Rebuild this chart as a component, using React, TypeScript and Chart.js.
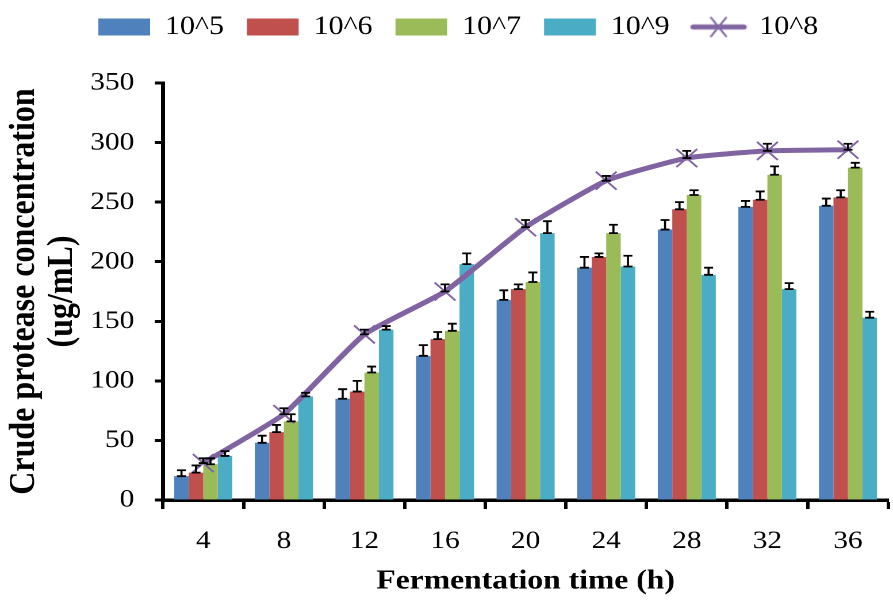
import React, { useEffect, useRef } from 'react';
import { Chart, registerables } from 'chart.js';

Chart.register(...registerables);

// ---- data ----
const categories = ['4', '8', '12', '16', '20', '24', '28', '32', '36'];

const seriesNames = ['10^5', '10^6', '10^7', '10^9', '10^8'];

const values105 = [20, 48, 85, 121, 168, 195, 227, 246, 247];
const errors105 = [5, 6, 8, 9, 8, 9, 8, 5, 6];

const values106 = [23, 57, 91, 135, 177, 204, 244, 252, 254];
const errors106 = [6, 6, 9, 6, 4, 3, 6, 7, 6];

const values107 = [30, 66, 107, 142, 183, 224, 256, 273, 279];
const errors107 = [5, 6, 5, 6, 8, 7, 4, 7, 4];

const values109 = [37, 87, 143, 198, 224, 196, 189, 177, 153];
const errors109 = [4, 3, 3, 9, 10, 9, 6, 5, 5];

const values108 = [31, 72, 139, 175, 229, 268, 287, 293, 294];
const errors108 = [4, 5, 4, 6, 6, 4, 6, 6, 5];

const yMin = 0;
const yMax = 350;
const yStep = 50;

const xTitle = 'Fermentation time (h)';
const yTitle = ['Crude protease concentration', '(ug/mL)'];

// ---- style ----
const BLUE = '#4F81BD';
const RED = '#C0504D';
const GREEN = '#9BBB59';
const CYAN = '#4BACC6';
const PURPLE = '#8064A2';
const SX = 1.15;
const W = 787;
const H = 600;
const FONT = "'Liberation Serif', 'Times New Roman', serif";

export default function App() {
  const ref = useRef<HTMLCanvasElement>(null);

  useEffect(() => {
    const canvas = ref.current;
    if (!canvas) return;
    Chart.defaults.font.family = FONT;
    Chart.defaults.color = '#000';

    // legend symbol for the line series: thick line with an x marker
    const img = document.createElement('canvas');
    img.width = 50;
    img.height = 24;
    const c = img.getContext('2d');
    if (c) {
      c.strokeStyle = PURPLE;
      c.lineCap = 'round';
      c.lineWidth = 5;
      c.beginPath();
      c.moveTo(3, 12);
      c.lineTo(47, 12);
      c.stroke();
      c.lineCap = 'butt';
      c.lineWidth = 1.8;
      c.beginPath();
      c.moveTo(18, 2);
      c.lineTo(32, 22);
      c.moveTo(32, 2);
      c.lineTo(18, 22);
      c.stroke();
    }

    const errorBars = {
      id: 'errorBars',
      afterDatasetsDraw(chart: any) {
        const ctx = chart.ctx;
        const ys = chart.scales.y;
        const cap = 3.9;
        ctx.save();
        ctx.strokeStyle = '#000';
        ctx.lineWidth = 1.8;
        chart.data.datasets.forEach((ds: any, i: number) => {
          const meta = chart.getDatasetMeta(i);
          const errs = ds.errors || [];
          meta.data.forEach((el: any, j: number) => {
            const v = ds.data[j];
            const e = errs[j] || 0;
            const x = el.x;
            const y0 = ys.getPixelForValue(v);
            const y1 = ys.getPixelForValue(v + e);
            ctx.beginPath();
            ctx.moveTo(x, y0);
            ctx.lineTo(x, y1);
            ctx.moveTo(x - cap, y0);
            ctx.lineTo(x + cap, y0);
            ctx.moveTo(x - cap, y1);
            ctx.lineTo(x + cap, y1);
            ctx.stroke();
          });
        });
        ctx.restore();
      },
    };

    const LEGEND_SHIFT_Y = 6;
    const LEGEND_SHIFT_X = 5;
    const legendSpace = {
      id: 'legendSpace',
      beforeInit(chart: any) {
        const lg = chart.legend;
        const origFit = lg.fit;
        lg.fit = function fit() {
          origFit.call(lg);
          this.height += 27;
        };
        const origDraw = lg.draw;
        lg.draw = function draw() {
          this.top -= LEGEND_SHIFT_Y;
          this.left += LEGEND_SHIFT_X;
          this.right += LEGEND_SHIFT_X;
          origDraw.call(lg);
          this.top += LEGEND_SHIFT_Y;
          this.left -= LEGEND_SHIFT_X;
          this.right -= LEGEND_SHIFT_X;
        };
      },
    };

    const barDs = (label: string, data: number[], errs: number[], color: string) => ({
      type: 'bar' as const,
      label,
      data,
      errors: errs,
      backgroundColor: color,
      borderWidth: 0,
      categoryPercentage: 0.72,
      barPercentage: 1.0,
      order: 1,
    });

    const chart = new Chart(canvas, {
      type: 'bar',
      data: {
        labels: categories,
        datasets: [
          barDs(seriesNames[0], values105, errors105, BLUE),
          barDs(seriesNames[1], values106, errors106, RED),
          barDs(seriesNames[2], values107, errors107, GREEN),
          barDs(seriesNames[3], values109, errors109, CYAN),
          {
            type: 'line' as const,
            label: seriesNames[4],
            data: values108,
            errors: errors108,
            borderColor: PURPLE,
            backgroundColor: PURPLE,
            borderWidth: 5,
            pointStyle: 'crossRot',
            pointRadius: 12.8,
            pointBorderWidth: 1.8,
            pointBorderColor: PURPLE,
            tension: 0.15,
            order: 0,
          } as any,
        ],
      },
      options: {
        responsive: false,
        animation: false,
        devicePixelRatio: 2,
        layout: { padding: { left: 0, right: 0, top: 0, bottom: 0 } },
        plugins: {
          tooltip: { enabled: false },
          legend: {
            display: true,
            position: 'top',
            labels: {
              font: { size: 26, family: FONT },
              color: '#000',
              boxWidth: 45,
              boxHeight: 17,
              usePointStyle: true,
              pointStyleWidth: 45,
              padding: 20,
              sort: (a: any, b: any) => a.datasetIndex - b.datasetIndex,
              generateLabels(ch: any) {
                const items = (Chart.defaults.plugins.legend.labels as any).generateLabels(ch);
                items.forEach((it: any) => {
                  if (it.datasetIndex === 4) {
                    it.pointStyle = img;
                  } else {
                    it.pointStyle = 'rect';
                    it.lineWidth = 0;
                  }
                });
                return items;
              },
            },
          },
        },
        scales: {
          x: {
            ticks: { font: { size: 25.5, family: FONT }, color: '#000', padding: 17 },
            grid: {
              drawOnChartArea: false,
              offset: true,
              tickLength: 9,
              tickWidth: 3,
              tickColor: '#000',
            },
            border: { color: '#000', width: 3.5 },
            title: {
              display: true,
              text: xTitle,
              color: '#000',
              font: { size: 27.5, weight: 'bold', family: FONT },
              padding: { top: 0, bottom: 2 },
            },
            afterFit(s: any) {
              s.height = 100;
            },
          },
          y: {
            min: yMin,
            max: yMax,
            ticks: { stepSize: yStep, font: { size: 25.5, family: FONT }, color: '#000', padding: 18 },
            grid: {
              drawOnChartArea: false,
              tickLength: 7,
              tickWidth: 3,
              tickColor: '#000',
            },
            border: { color: '#000', width: 3.5 },
            title: {
              display: true,
              text: yTitle,
              color: '#000',
              font: { size: 32, weight: 'bold', family: FONT, lineHeight: 1.03 },
              padding: { top: 5, bottom: 0 },
            },
            afterFit(s: any) {
              s.width = 141.7;
            },
          },
        },
      } as any,
      plugins: [errorBars, legendSpace],
    });

    return () => chart.destroy();
  }, []);

  return (
    <div
      style={{
        position: 'fixed',
        left: 0,
        top: 0,
        width: 893,
        height: 600,
        overflow: 'hidden',
        background: '#fff',
      }}
    >
      <canvas
        ref={ref}
        width={W}
        height={H}
        style={{ display: 'block', transform: `scaleX(${SX})`, transformOrigin: '0 0' }}
      />
    </div>
  );
}
